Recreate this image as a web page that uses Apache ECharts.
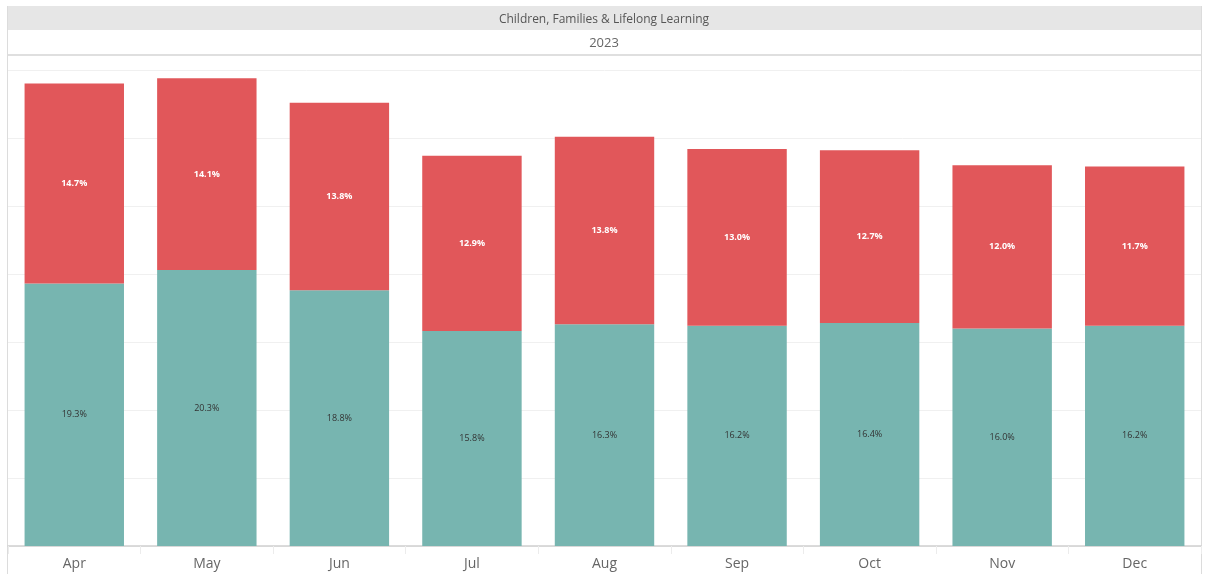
<!DOCTYPE html>
<html>
<head>
<meta charset="utf-8">
<script src="https://cdn.jsdelivr.net/npm/echarts@6/dist/echarts.min.js"></script>
<style>
  html, body { margin: 0; padding: 0; background: #fff; }
  #chart { width: 1205px; height: 581px; }
</style>
</head>
<body>
<div id="chart"></div>
<script>
var months = ['Apr', 'May', 'Jun', 'Jul', 'Aug', 'Sep', 'Oct', 'Nov', 'Dec'];
var lowerPct = [19.3, 20.3, 18.8, 15.8, 16.3, 16.2, 16.4, 16.0, 16.2];
var upperPct = [14.7, 14.1, 13.8, 12.9, 13.8, 13.0, 12.7, 12.0, 11.7];
var panelTitle = 'Children, Families & Lifelong Learning';
var yearLabel = '2023';

var font = 'Open Sans';
var myChart = echarts.init(document.getElementById('chart'));

var option = {
  animation: false,
  textStyle: { fontFamily: font },
  grid: { left: 8, right: 4, top: 70, bottom: 35, containLabel: false },
  graphic: [
    { type: 'rect', shape: { x: 7, y: 6, width: 1194, height: 24 }, style: { fill: '#e6e6e6' } },
    { type: 'text', x: 604, y: 19.5, style: { text: panelTitle, fill: '#555', font: '12px ' + font, align: 'center', verticalAlign: 'middle' } },
    { type: 'text', x: 604, y: 43.5, style: { text: yearLabel, fill: '#666', font: '13px ' + font, align: 'center', verticalAlign: 'middle' } },
    { type: 'line', shape: { x1: 7, y1: 55, x2: 1201, y2: 55 }, style: { stroke: '#d4d4d4', lineWidth: 1.5 } },
    { type: 'line', shape: { x1: 7.5, y1: 6, x2: 7.5, y2: 574 }, style: { stroke: '#dcdcdc', lineWidth: 1 } },
    { type: 'line', shape: { x1: 1201.5, y1: 6, x2: 1201.5, y2: 574 }, style: { stroke: '#dcdcdc', lineWidth: 1 } }
  ],
  xAxis: {
    type: 'category',
    data: months,
    axisLine: { lineStyle: { color: '#d0d0d0', width: 1.5 } },
    axisTick: { show: true, length: 8, lineStyle: { color: '#ececec' } },
    axisLabel: { color: '#666', fontSize: 14, margin: 11, fontFamily: font }
  },
  yAxis: {
    type: 'value',
    min: 0,
    max: 35,
    interval: 5,
    axisLine: { show: false },
    axisTick: { show: false },
    axisLabel: { show: false },
    splitLine: { lineStyle: { color: '#f0f0f0' } }
  },
  series: [
    {
      name: 'lower',
      type: 'bar',
      stack: 'total',
      data: lowerPct,
      barCategoryGap: '25%',
      itemStyle: { color: '#77b5b0' },
      label: {
        show: true,
        position: 'inside',
        color: '#333',
        fontSize: 9,
        fontFamily: font,
        formatter: function (p) { return p.value.toFixed(1) + '%'; }
      }
    },
    {
      name: 'upper',
      type: 'bar',
      stack: 'total',
      data: upperPct,
      barCategoryGap: '25%',
      itemStyle: { color: '#e1575a' },
      label: {
        show: true,
        position: 'inside',
        color: '#fff',
        fontSize: 9,
        fontWeight: 'bold',
        fontFamily: font,
        formatter: function (p) { return p.value.toFixed(1) + '%'; }
      }
    }
  ]
};

myChart.setOption(option);
</script>
</body>
</html>
